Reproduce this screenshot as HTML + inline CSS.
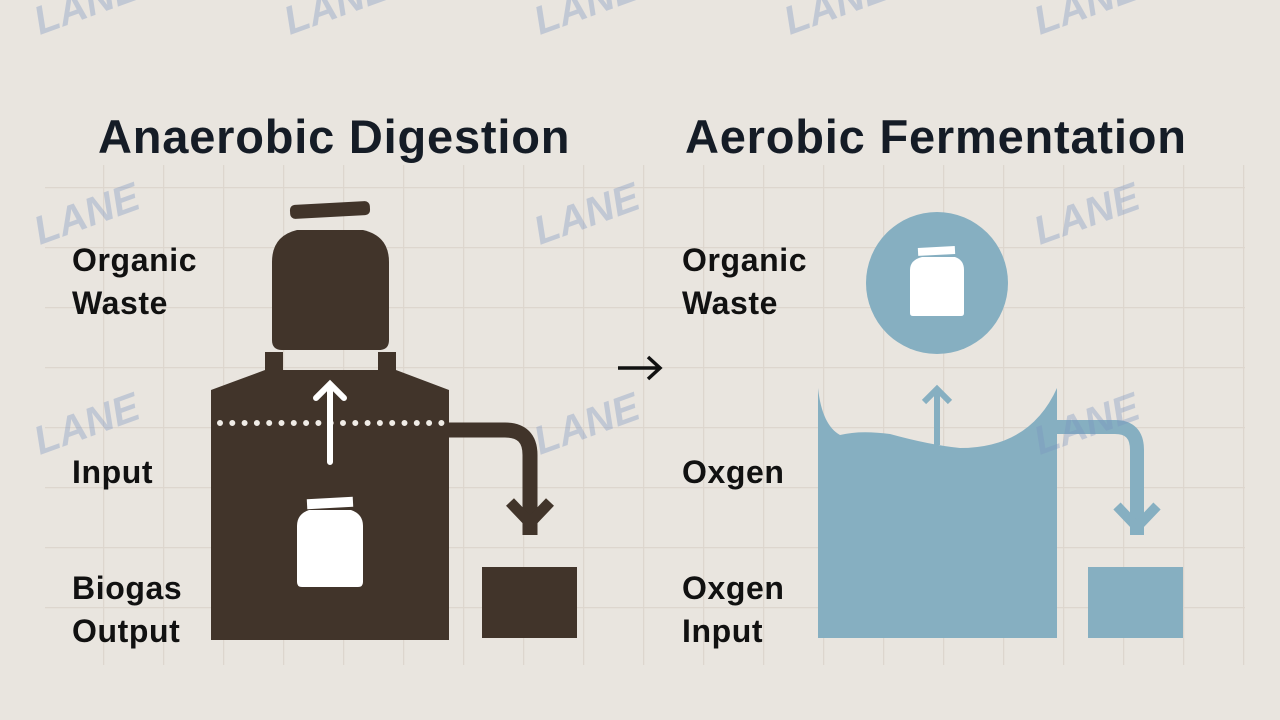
<!DOCTYPE html>
<html><head><style>
body{margin:0;width:1280px;height:720px;overflow:hidden;background:#e9e5df;font-family:"Liberation Sans",sans-serif;}
.t{position:absolute;font-size:47px;color:#151c26;font-weight:bold;letter-spacing:0.8px;white-space:nowrap}
.l{position:absolute;font-size:32px;color:#111;line-height:43px;white-space:nowrap;font-weight:bold;letter-spacing:0.6px}
</style></head><body>
<svg width="1280" height="720" style="position:absolute;left:0;top:0">
<defs>
<pattern id="g" x="43" y="7" width="60" height="60" patternUnits="userSpaceOnUse">
<path d="M0 0V60M0 0H60" stroke="#ddd6ce" stroke-width="2.5" fill="none"/>
</pattern>
</defs>
<rect x="45" y="165" width="1200" height="500" fill="url(#g)"/>
<g fill="#41342a">
<rect x="290" y="203" width="80" height="14" rx="5" transform="rotate(-3 330 210)"/>
<path d="M297 230 H363 Q389 236 389 262 V340 Q389 350 379 350 H282 Q272 350 272 340 V262 Q272 236 297 230 Z"/>
<rect x="265" y="352" width="18" height="20"/>
<rect x="378" y="352" width="18" height="20"/>
<path d="M265 370 H396 L449 390 V640 H211 V390 Z"/>
<rect x="482" y="567" width="95" height="71"/>
</g>
<path d="M449 430 H505 Q530 430 530 455 V535" stroke="#41342a" stroke-width="15" fill="none"/>
<path d="M510 502 L530 523 L550 502" stroke="#41342a" stroke-width="11" fill="none"/>
<line x1="220" y1="423" x2="445" y2="423" stroke="#f0ece6" stroke-width="6" stroke-linecap="round" stroke-dasharray="0 12.3"/>
<path d="M330 462 V385 M316 398 L330 384 L344 398" stroke="#fff" stroke-width="6" fill="none" stroke-linecap="round"/>
<rect x="307" y="498" width="46" height="10" fill="#fff" transform="rotate(-3 330 503)"/>
<path d="M309 510 H351 Q363 514 363 526 V582 Q363 587 358 587 H302 Q297 587 297 582 V526 Q297 514 309 510 Z" fill="#fff"/>
<g fill="#86afc1">
<circle cx="937" cy="283" r="71"/>
<path d="M818 388 Q822 425 840 435 Q860 430 890 434 Q930 445 960 448 Q1030 448 1057 388 V638 H818 Z"/>
<rect x="1088" y="567" width="95" height="71"/>
</g>
<path d="M1057 427 H1115 Q1137 427 1137 450 V535" stroke="#86afc1" stroke-width="14" fill="none"/>
<path d="M1117 506 L1137 527 L1157 506" stroke="#86afc1" stroke-width="10" fill="none"/>
<path d="M937 445 V390 M924 402 L937 389 L950 402" stroke="#86afc1" stroke-width="6" fill="none"/>
<rect x="918" y="247" width="37" height="8" fill="#fff" transform="rotate(-3 936 251)"/>
<path d="M922 257 H955 Q964 260 964 270 V313 Q964 316 961 316 H913 Q910 316 910 313 V270 Q910 260 922 257 Z" fill="#fff"/>
<path d="M618 368 H660 M648 357 L660 368 L648 379" stroke="#111" stroke-width="3.5" fill="none"/>
<g fill="#7a93c0" opacity="0.35" font-family="Liberation Sans" font-weight="bold" font-style="italic">
<text x="40" y="35" font-size="40" transform="rotate(-20 40 35)">LANE</text>
<text x="290" y="35" font-size="40" transform="rotate(-20 290 35)">LANE</text>
<text x="540" y="35" font-size="40" transform="rotate(-20 540 35)">LANE</text>
<text x="790" y="35" font-size="40" transform="rotate(-20 790 35)">LANE</text>
<text x="1040" y="35" font-size="40" transform="rotate(-20 1040 35)">LANE</text>
<text x="40" y="245" font-size="40" transform="rotate(-20 40 245)">LANE</text>
<text x="540" y="245" font-size="40" transform="rotate(-20 540 245)">LANE</text>
<text x="1040" y="245" font-size="40" transform="rotate(-20 1040 245)">LANE</text>
<text x="40" y="455" font-size="40" transform="rotate(-20 40 455)">LANE</text>
<text x="540" y="455" font-size="40" transform="rotate(-20 540 455)">LANE</text>
<text x="1040" y="455" font-size="40" transform="rotate(-20 1040 455)">LANE</text>
</g>
</svg>
<div class="t" style="left:98px;top:109px">Anaerobic Digestion</div>
<div class="t" style="left:685px;top:109px">Aerobic Fermentation</div>
<div class="l" style="left:72px;top:239px">Organic<br>Waste</div>
<div class="l" style="left:72px;top:451px">Input</div>
<div class="l" style="left:72px;top:567px">Biogas<br>Output</div>
<div class="l" style="left:682px;top:239px">Organic<br>Waste</div>
<div class="l" style="left:682px;top:451px">Oxgen</div>
<div class="l" style="left:682px;top:567px">Oxgen<br>Input</div>
</body></html>
